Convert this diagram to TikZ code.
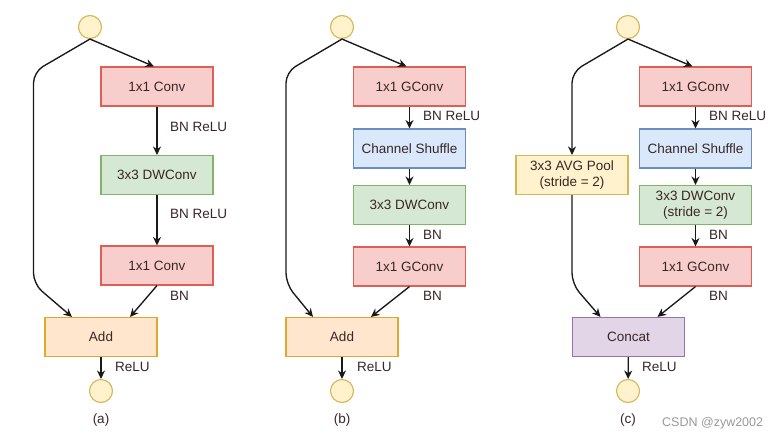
\documentclass[tikz,border=0pt]{standalone}
\usepackage{fontspec}
\setmainfont{Liberation Sans}
\usetikzlibrary{arrows.meta,calc}
\definecolor{txt}{RGB}{58,38,38}
\definecolor{ln}{RGB}{25,25,25}
\definecolor{redF}{HTML}{F8CECC}\definecolor{redS}{HTML}{DE5F55}
\definecolor{grnF}{HTML}{D5E8D4}\definecolor{grnS}{HTML}{82B366}
\definecolor{bluF}{HTML}{DAE8FC}\definecolor{bluS}{HTML}{6C8EBF}
\definecolor{orgF}{HTML}{FFE6CC}\definecolor{orgS}{HTML}{E0A82E}
\definecolor{yelF}{HTML}{FFF2CC}\definecolor{yelS}{HTML}{D6B656}
\definecolor{purF}{HTML}{E1D5E7}\definecolor{purS}{HTML}{9673A6}
\tikzset{
  box/.style={draw, line width=1.1pt, minimum width=112pt, minimum height=39pt, inner sep=0pt, align=center, text=txt, font=\fontsize{13.5}{15}\selectfont},
  redbox/.style={box, fill=redF, draw=redS},
  grnbox/.style={box, fill=grnF, draw=grnS},
  blubox/.style={box, fill=bluF, draw=bluS},
  orgbox/.style={box, fill=orgF, draw=orgS},
  yelbox/.style={box, fill=yelF, draw=yelS},
  purbox/.style={box, fill=purF, draw=purS},
  io/.style={circle, draw=yelS, fill=yelF, line width=1.1pt, minimum size=23pt, inner sep=0pt},
  lbl/.style={text=txt, font=\fontsize{13.5}{15}\selectfont, anchor=west, inner sep=0pt},
  captxt/.style={text=txt, font=\fontsize{13.5}{15}\selectfont, inner sep=0pt},
  arr/.style={draw=ln, line width=1.35pt, -{Stealth[length=8.5pt,width=8pt]}},
  skip/.style={arr, rounded corners=11pt},
}
\begin{document}
\begin{tikzpicture}[x=1pt,y=-1pt]
\path[fill=white] (0,0) rectangle (776,440);
% ---------- (a)
\node[io] (ai) at (90,27) {};
\node[redbox] (a1) at (157,86.5) {1x1 Conv};
\node[grnbox] (a2) at (157,175) {3x3 DWConv};
\node[redbox] (a3) at (157,265.5) {1x1 Conv};
\node[orgbox] (aadd) at (101,337) {Add};
\node[io] (ao) at (101,391) {};
\node[captxt] (acap) at (101,420) {(a)};
\draw[arr] (ai.south) -- ([xshift=-3pt]a1.north);
\draw[arr] (a1) -- (a2);
\draw[arr] (a2) -- (a3);
\draw[arr] (a3.south) -- ([xshift=29pt]aadd.north);
\draw[skip] (ai.south) -- (33.5,72) -- (33.5,284) -- ([xshift=-29pt]aadd.north);
\draw[arr] (aadd) -- (ao);
\node[lbl] (al1) at (170,127) {BN ReLU};
\node[lbl] (al2) at (170,214) {BN ReLU};
\node[lbl] (al3) at (170,296) {BN};
\node[lbl] (al4) at (115,367) {ReLU};
% ---------- (b)
\node[io] (bi) at (342,27) {};
\node[redbox] (b1) at (409.5,86.5) {1x1 GConv};
\node[blubox] (b2) at (409.5,148.5) {Channel Shuffle};
\node[grnbox] (b3) at (409.5,205) {3x3 DWConv};
\node[redbox] (b4) at (409.5,266.5) {1x1 GConv};
\node[orgbox] (badd) at (342,337) {Add};
\node[io] (bo) at (342,391) {};
\node[captxt] (bcap) at (342,420) {(b)};
\draw[arr] (bi.south) -- ([xshift=-3pt]b1.north);
\draw[arr] (b1) -- (b2);
\draw[arr] (b2) -- (b3);
\draw[arr] (b3) -- (b4);
\draw[arr] (b4.south) -- ([xshift=29pt]badd.north);
\draw[skip] (bi.south) -- (286,72) -- (286,284) -- ([xshift=-29pt]badd.north);
\draw[arr] (badd) -- (bo);
\node[lbl] (bl1) at (423,116) {BN ReLU};
\node[lbl] (bl2) at (423,235) {BN};
\node[lbl] (bl3) at (423,296) {BN};
\node[lbl] (bl4) at (357,367) {ReLU};
% ---------- (c)
\node[io] (ci) at (628,27) {};
\node[redbox] (c1) at (695.5,86.5) {1x1 GConv};
\node[blubox] (c2) at (695.5,148.5) {Channel Shuffle};
\node[grnbox, font=\fontsize{13.5}{16}\selectfont] (c3) at (695.5,205) {3x3 DWConv\\(stride = 2)};
\node[redbox] (c4) at (695.5,266.5) {1x1 GConv};
\node[yelbox, font=\fontsize{13.5}{16}\selectfont] (cp) at (572,175) {3x3 AVG Pool\\(stride = 2)};
\node[purbox] (ccat) at (628.5,337) {Concat};
\node[io] (co) at (628,391) {};
\node[captxt] (ccap) at (628,420) {(c)};
\draw[arr] (ci.south) -- ([xshift=-3pt]c1.north);
\draw[arr] (c1) -- (c2);
\draw[arr] (c2) -- (c3);
\draw[arr] (c3) -- (c4);
\draw[arr] (c4.south) -- ([xshift=29pt]ccat.north);
\draw[skip] (ci.south) -- (572,72) -- (cp.north);
\draw[skip] (cp.south) -- (572,284) -- ([xshift=-28pt]ccat.north);
\draw[arr] (ccat) -- (co);
\node[lbl] (cl1) at (709,116) {BN ReLU};
\node[lbl] (cl2) at (709,235) {BN};
\node[lbl] (cl3) at (709,296) {BN};
\node[lbl] (cl4) at (642,367) {ReLU};
\node[lbl, text=gray!80, font=\fontsize{12.5}{14}\selectfont] (wm) at (662,423) {CSDN @zyw2002};
\end{tikzpicture}
\end{document}
